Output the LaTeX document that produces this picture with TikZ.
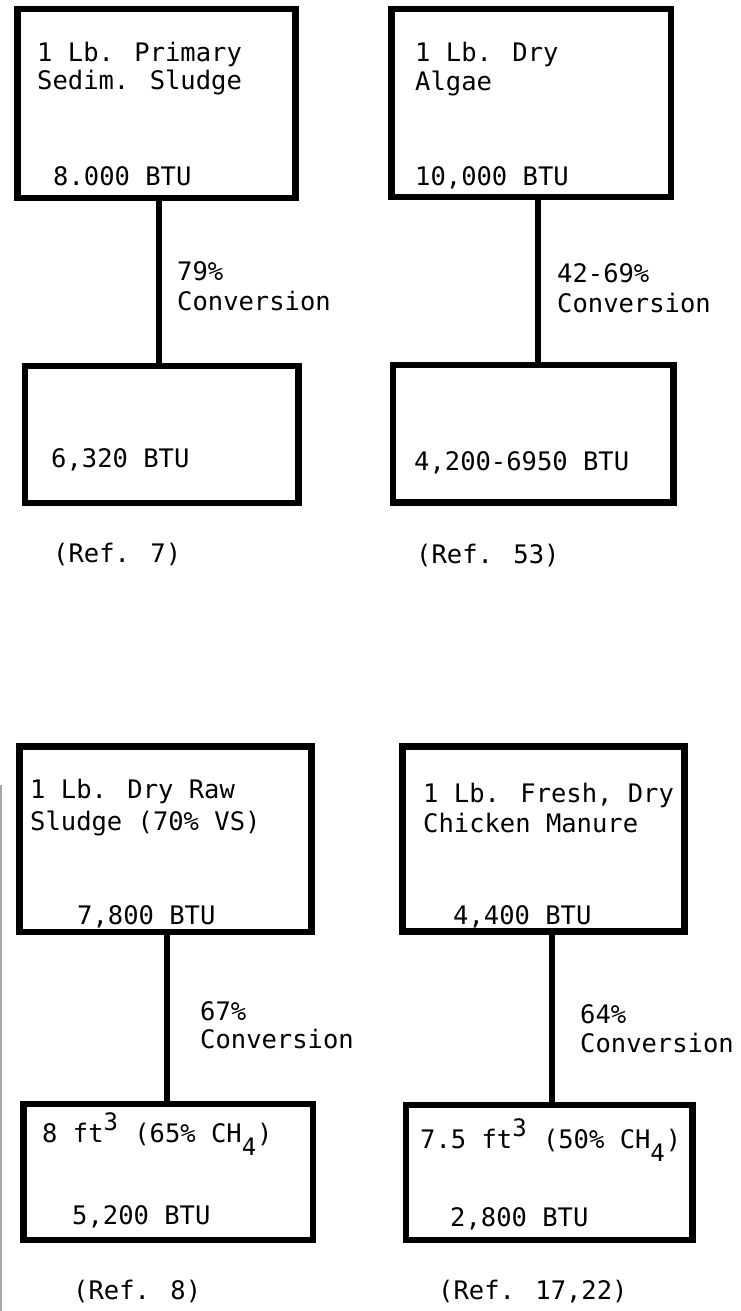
\documentclass[tikz,border=0pt]{standalone}
\usepackage{fontspec}
\setmainfont{DejaVu Sans Mono}
\usetikzlibrary{fit}
\newcommand\supthree[1]{\raisebox{12pt}{\makebox[15.35pt][l]{\fontsize{24}{24}\selectfont #1}}}
\newcommand\subfour[1]{\raisebox{-13pt}{\makebox[15.35pt][l]{\fontsize{24}{24}\selectfont #1}}}
\tikzset{
  box/.style={draw=black, line width=6.8pt, line join=miter, rectangle, inner sep=0pt},
  link/.style={draw=black, line width=6pt},
  lbl/.style={anchor=base west, inner sep=0pt, font=\fontsize{25.5}{30}\selectfont, text=black},
}
\begin{document}
\begin{tikzpicture}[x=1pt,y=-1pt]
\useasboundingbox[fill=white] (0,0) rectangle (741,1311);

% scan edge artifact
\draw[gray!70, line width=1.5pt] (1,785) -- (1,1311);

% ---------- top left ----------
\node[box, fit={(17.5,9) (295.5,198)}] (tlA) {};
\node[box, fit={(25,366) (298.5,503)}] (tlB) {};
\draw[link] ([xshift=2.5pt]tlA.south) -- ([xshift=2.5pt]tlA.south |- tlB.north);
\node[lbl] (tl1) at (37,62) {1 Lb. Primary};
\node[lbl] (tl2) at (37,90) {Sedim. Sludge};
\node[lbl] (tl3) at (53,185) {8.000 BTU};
\node[lbl] (tl4) at (177,280) {79\%};
\node[lbl] (tl5) at (177,310) {Conversion};
\node[lbl] (tl6) at (51,467) {6,320 BTU};
\node[lbl] (tl7) at (53,562) {(Ref. 7)};

% ---------- top right ----------
\node[box, fit={(391.5,9) (671,197)}] (trA) {};
\node[box, fit={(393,365) (673.5,502.5)}] (trB) {};
\draw[link] ([xshift=6.75pt]trA.south) -- ([xshift=6.75pt]trA.south |- trB.north);
\node[lbl] (tr1) at (415,62) {1 Lb. Dry};
\node[lbl] (tr2) at (415,91) {Algae};
\node[lbl] (tr3) at (415,185) {10,000 BTU};
\node[lbl] (tr4) at (557,282) {42-69\%};
\node[lbl] (tr5) at (557,312) {Conversion};
\node[lbl] (tr6) at (414,470) {4,200-6950 BTU};
\node[lbl] (tr7) at (416,563) {(Ref. 53)};

% ---------- bottom left ----------
\node[box, fit={(19.5,746.5) (311.5,932)}] (blA) {};
\node[box, fit={(23.5,1104) (313,1240)}] (blB) {};
\draw[link] ([xshift=1.5pt]blA.south) -- ([xshift=1.5pt]blA.south |- blB.north);
\node[lbl] (bl1) at (30,798) {1 Lb. Dry Raw};
\node[lbl] (bl2) at (30,830) {Sludge (70\% VS)};
\node[lbl] (bl3) at (77,924) {7,800 BTU};
\node[lbl] (bl4) at (200,1020) {67\%};
\node[lbl] (bl5) at (200,1048) {Conversion};
\node[lbl] (bl6) at (42,1142) {8 ft\supthree{3} (65\% CH\subfour{4})};
\node[lbl] (bl7) at (72,1224) {5,200 BTU};
\node[lbl] (bl8) at (73,1299) {(Ref. 8)};

% ---------- bottom right ----------
\node[box, fit={(402.5,746.5) (684.5,931.5)}] (brA) {};
\node[box, fit={(406,1105) (692.5,1240)}] (brB) {};
\draw[link] ([xshift=8.5pt]brA.south) -- ([xshift=8.5pt]brA.south |- brB.north);
\node[lbl] (br1) at (423,802) {1 Lb. Fresh, Dry};
\node[lbl] (br2) at (423,832) {Chicken Manure};
\node[lbl] (br3) at (453,924) {4,400 BTU};
\node[lbl] (br4) at (580,1023) {64\%};
\node[lbl] (br5) at (580,1052) {Conversion};
\node[lbl] (br6) at (420,1148) {7.5 ft\supthree{3} (50\% CH\subfour{4})};
\node[lbl] (br7) at (450,1226) {2,800 BTU};
\node[lbl] (br8) at (438,1299) {(Ref. 17,22)};
\end{tikzpicture}
\end{document}
